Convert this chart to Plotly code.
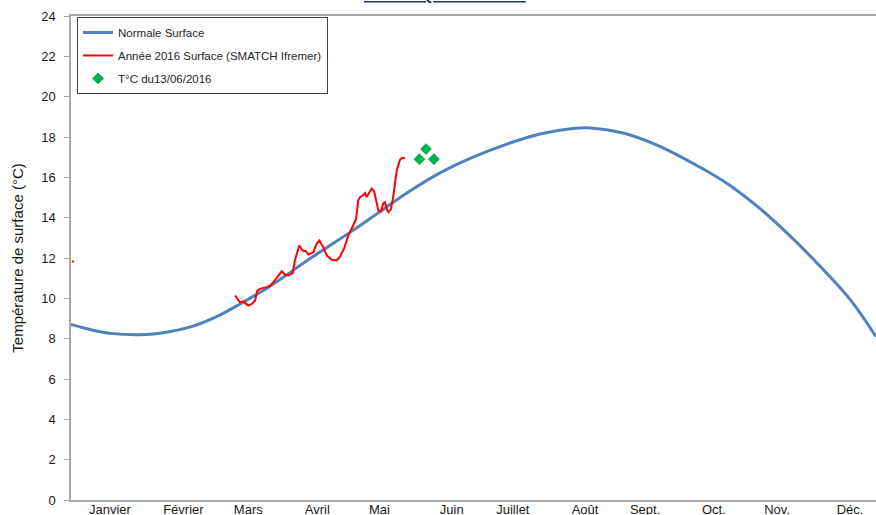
import plotly.graph_objects as go

# Day-of-year positions and values
normal_days = [0, 10.0, 19.1, 31.4, 40.5, 55.5, 66.4, 76.8, 90.5, 108.7, 128.2, 140.5,
               154.1, 167.8, 182.8, 198.2, 213.2, 228.2, 236.0, 251.0, 266.4, 286.0,
               299.6, 313.3, 326.9, 340.5, 354.2, 366]
normal_temp = [8.70, 8.42, 8.25, 8.20, 8.27, 8.62, 9.10, 9.72, 10.60, 11.97, 13.37, 14.30,
               15.32, 16.22, 17.00, 17.65, 18.15, 18.42, 18.45, 18.20, 17.60, 16.50,
               15.60, 14.45, 13.10, 11.60, 9.95, 8.10]

y2016_days = [0.5, 1.4, None,
              74.6, 76.8, 78.3, 80.6, 82.2, 83.7, 84.7, 85.9, 87.4, 89.0, 90.5, 92.0,
              94.3, 95.8, 97.3, 98.8, 100.8, 101.8, 103.8, 105.3, 106.8, 107.9, 110.2,
              111.7, 112.9, 114.7, 116.3, 118.5, 120.8, 122.3, 124.1, 126.1, 128.3,
              129.6, 130.6, 131.4, 132.6, 133.7, 134.4, 135.6, 136.7, 137.8, 138.7,
              139.7, 140.8, 142.0, 142.8, 143.5, 144.3, 145.4, 146.5, 148.1, 149.6,
              150.8, 151.9]
y2016_temp = [11.83, 11.83, None,
              10.14, 9.80, 9.85, 9.64, 9.72, 9.89, 10.38, 10.47, 10.52, 10.55, 10.63, 10.80,
              11.13, 11.34, 11.18, 11.13, 11.25, 11.88, 12.62, 12.37, 12.34, 12.17, 12.29,
              12.71, 12.87, 12.54, 12.12, 11.91, 11.88, 12.07, 12.46, 13.12, 13.61,
              13.95, 14.86, 15.02, 15.10, 15.22, 15.02, 15.27, 15.44, 15.32, 14.86,
              14.36, 14.28, 14.73, 14.77, 14.44, 14.28, 14.40, 15.02, 16.35, 16.88,
              16.98, 16.93]

june13_days = [158.4, 161.4, 165.0]
june13_temp = [16.90, 17.40, 16.90]

month_pos = [17.7, 51.1, 80.6, 112.0, 140.2, 173.1, 200.9, 233.7, 261.0, 292.3, 321.0, 354.2]
month_labels = ["Janvier", "Février", "Mars", "Avril", "Mai", "Juin", "Juillet", "Août",
                "Sept.", "Oct.", "Nov.", "Déc."]
y_ticks = list(range(0, 25, 2))

fig = go.Figure()
fig.add_trace(go.Scatter(x=normal_days, y=normal_temp, mode="lines", name="Normale Surface",
                         line=dict(color="#4f81bd", width=3, shape="spline", smoothing=1.0),
                         legendgroup="a"))
fig.add_trace(go.Scatter(x=y2016_days, y=y2016_temp, mode="lines",
                         name="Année 2016 Surface (SMATCH Ifremer)",
                         line=dict(color="#ff0000", width=2), connectgaps=False,
                         legendgroup="b"))
fig.add_trace(go.Scatter(x=june13_days, y=june13_temp, mode="markers", name="T°C du13/06/2016",
                         marker=dict(symbol="diamond", color="#00b050", size=9),
                         legendgroup="c"))

fig.update_layout(
    width=876, height=515,
    margin=dict(l=71, r=0, t=16, b=15, autoexpand=False),
    paper_bgcolor="white", plot_bgcolor="white",
    font=dict(family="Liberation Sans, Arial, sans-serif", color="#262626"),
    showlegend=True,
    legend=dict(x=0.0075, y=0.998, xanchor="left", yanchor="top",
                bordercolor="#404040", borderwidth=1, bgcolor="white",
                font=dict(size=11.5, color="#262626"), tracegroupgap=4,
                traceorder="grouped"),
    xaxis=dict(range=[0, 366], tickvals=month_pos, ticktext=month_labels,
               showgrid=False, zeroline=False, showline=True, mirror=True,
               linecolor="#a6a6a6", linewidth=1.5, ticks="", automargin=False,
               tickfont=dict(size=13, family="Liberation Sans, Arial", color="#1a1a1a"),
               ticklabelstandoff=-3, fixedrange=True),
    yaxis=dict(range=[0, 24], tickvals=y_ticks, showgrid=False, zeroline=False,
               showline=True, linecolor="#a6a6a6", linewidth=1.5, automargin=False,
               ticks="outside", ticklen=5, tickcolor="#a6a6a6",
               tickfont=dict(size=13, family="Liberation Sans, Arial", color="#1a1a1a"),
               ticklabelstandoff=6,
               title=dict(text="Température de surface (°C)", standoff=14,
                          font=dict(size=15, family="Liberation Sans, Arial", color="#1a1a1a"))),
)
fig.update_xaxes(tickprefix="<b>", ticksuffix="</b>")
fig.update_yaxes(tickprefix="<b>", ticksuffix="</b>")

fig.add_annotation(text="<u><b>Baie de Quiberon 2016</b></u>", xref="paper", yref="paper",
                   x=0.465, y=1.0, yanchor="bottom", yshift=10.5, showarrow=False,
                   font=dict(size=15, color="#1f3864", family="Liberation Sans, Arial"))

fig.write_html("out.html", config={"displayModeBar": False},
               post_script="document.body.style.margin='0';")
